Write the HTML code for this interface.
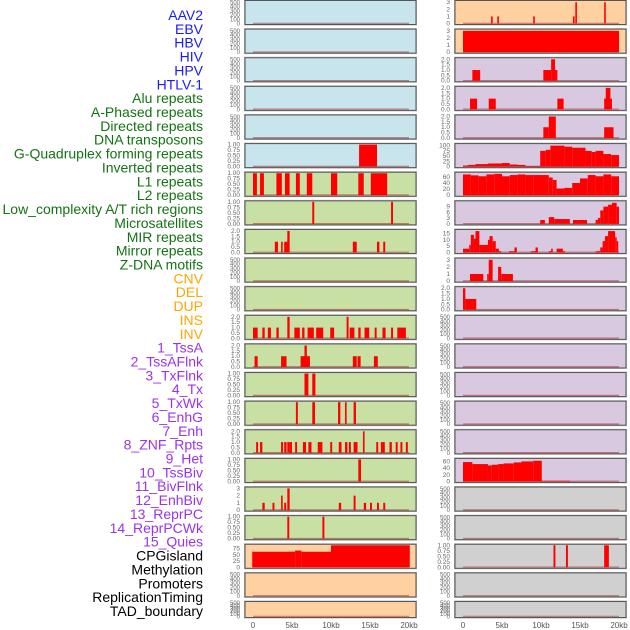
<!DOCTYPE html>
<html><head><meta charset="utf-8">
<style>
html,body{margin:0;padding:0;background:#fff;}
svg{display:block;font-family:"Liberation Sans",sans-serif;}
</style></head>
<body>
<svg id="chart" width="630" height="630" viewBox="0 0 630 630" xmlns="http://www.w3.org/2000/svg"></svg>
<script>
// ---- track labels ----
const labelNames = ["AAV2","EBV","HBV","HIV","HPV","HTLV-1","Alu repeats","A-Phased repeats","Directed repeats","DNA transposons","G-Quadruplex forming repeats","Inverted repeats","L1 repeats","L2 repeats","Low_complexity A/T rich regions","Microsatellites","MIR repeats","Mirror repeats","Z-DNA motifs","CNV","DEL","DUP","INS","INV","1_TssA","2_TssAFlnk","3_TxFlnk","4_Tx","5_TxWk","6_EnhG","7_Enh","8_ZNF_Rpts","9_Het","10_TssBiv","11_BivFlnk","12_EnhBiv","13_ReprPC","14_ReprPCWk","15_Quies","CPGisland","Methylation","Promoters","ReplicationTiming","TAD_boundary"];
const labelColors = ["#1a1aff","#1a1aff","#1a1aff","#1a1aff","#1a1aff","#1a1aff","#137313","#137313","#137313","#137313","#137313","#137313","#137313","#137313","#137313","#137313","#137313","#137313","#137313","#ffa500","#ffa500","#ffa500","#ffa500","#ffa500","#9933ee","#9933ee","#9933ee","#9933ee","#9933ee","#9933ee","#9933ee","#9933ee","#9933ee","#9933ee","#9933ee","#9933ee","#9933ee","#9933ee","#9933ee","#000","#000","#000","#000","#000"];
// ---- x axis ----
const xTickValues = [0,5,10,15,20];
const xTickLabels = ["0","5kb","10kb","15kb","20kb"];
const E = [0,100,200,300,400,500];
// ---- left column tracks ----
const leftBg = ["#c8e4ec","#c8e4ec","#c8e4ec","#c8e4ec","#c8e4ec","#c8e4ec","#c8e0a4","#c8e0a4","#c8e0a4","#c8e0a4","#c8e0a4","#c8e0a4","#c8e0a4","#c8e0a4","#c8e0a4","#c8e0a4","#c8e0a4","#c8e0a4","#c8e0a4","#ffd0a0","#ffd0a0","#ffd0a0"];
const leftMax = [520,520,520,520,520,1,1,1,2.05,520,520,2.05,2.05,1,1,2.05,1,3.05,1,88,520,520];
const leftTicks = [E,E,E,E,E,[0,0.25,0.5,0.75,1],[0,0.25,0.5,0.75,1],[0,0.25,0.5,0.75,1],[0,0.5,1,1.5,2],E,E,[0,0.5,1,1.5,2],[0,0.5,1,1.5,2],[0,0.25,0.5,0.75,1],[0,0.25,0.5,0.75,1],[0,0.5,1,1.5,2],[0,0.25,0.5,0.75,1],[0,1,2,3],[0,0.25,0.5,0.75,1],[0,25,50,75],E,E];
const leftSegs = [[],[],[],[],[],
 [[13.6,15.9,1]],
 [[0,0.5,1],[0.9,1.4,1],[3,3.7,1],[4.1,4.7,1],[5.5,6,1],[6.9,7.6,1],[10,10.8,1],[13.5,14.2,1],[15.1,17.2,1]],
 [[7.6,7.85,1],[17.7,17.95,1]],
 [[2.8,3.2,1],[3.6,3.8,1],[4,4.5,1],[4.4,4.7,2],[12.8,13.3,1],[15.9,16.2,1],[16.7,16.95,1]],
 [],[],
 [[0,0.6,1],[1.2,1.5,1],[1.9,2.3,1],[3,3.3,1],[4.4,4.7,2],[5.3,6,1],[6.3,6.6,1],[7,7.8,1],[8.1,9,1],[9.9,10.4,1],[12,12.25,2],[12.4,13,1],[13.5,13.8,1],[14.3,14.9,1],[15.6,15.85,1],[16.6,17,1],[17.7,17.95,1],[18.5,19.6,1]],
 [[0.2,0.6,1],[3.6,4.3,1],[6.1,7.3,1],[6.6,6.9,2],[12.8,13.3,1],[13.4,13.8,1],[15.5,16,1]],
 [[6.6,7.1,1],[7.6,8,1]],
 [[5.5,5.75,1],[7.6,7.95,1],[10.9,11.2,1],[11.8,12,1],[12.9,13.2,1]],
 [[0.4,0.65,1],[0.9,1.2,1],[3.6,3.85,1],[4,4.3,1],[4.4,4.7,1],[4.7,5,1],[5.4,5.65,1],[6.4,6.8,1],[7.1,7.5,1],[8.3,8.9,1],[9.9,10.15,1],[11,11.35,1],[11.8,12.1,1],[12.3,12.55,1],[12.9,13.4,1],[14.1,14.3,2],[15.8,16.05,1],[16.4,16.9,1],[17.5,17.8,1],[18.3,18.55,1],[18.9,19.15,1],[19.6,19.85,1]],
 [[13.5,13.85,1]],
 [[1.2,1.5,1],[2.5,2.75,1],[3.6,3.8,2],[4,4.25,1],[4.4,4.7,3],[11,11.3,1],[12.9,13.15,2],[14.2,14.5,1],[15,15.25,1],[15.9,16.15,1],[16.7,16.95,1]],
 [[4.4,4.65,1],[8.9,9.15,1]],
 [[-0.1,5.4,62],[5.4,6.2,67],[6.2,10,62],[10,20.1,88]],
 [],[]];
// ---- right column tracks ----
const rightBg = ["#ffd0a0","#ffd0a0","#d8c8e0","#d8c8e0","#d8c8e0","#d8c8e0","#d8c8e0","#d8c8e0","#d8c8e0","#d8c8e0","#d8c8e0","#d8c8e0","#d8c8e0","#d8c8e0","#d8c8e0","#d8c8e0","#d8c8e0","#d0d0d0","#d0d0d0","#d0d0d0","#d0d0d0","#d0d0d0"];
const rightMax = [3.1,3.1,2.05,2.05,2.05,105,72,11.5,17.5,3.1,2.05,520,520,520,520,520,66,520,520,1,520,520];
const rightTicks = [[0,1,2,3],[0,1,2,3],[0,0.5,1,1.5,2],[0,0.5,1,1.5,2],[0,0.5,1,1.5,2],[0,25,50,75,100],[0,20,40,60],[0,3,6,9],[0,5,10,15],[0,1,2,3],[0,0.5,1,1.5,2],E,E,E,E,E,[0,20,40,60],E,E,[0,0.25,0.5,0.75,1],E,E];
const rightSegs = [
 [[3.6,3.8,1],[4.4,4.6,1],[9,9.2,1],[14.1,14.3,1],[14.4,14.6,3],[18.1,18.3,3]],
 [[0,20,3]],
 [[1.2,2.2,1],[10.3,11.3,1],[11.3,11.8,2],[11.8,12.1,1]],
 [[0.9,1.8,1],[3.3,4.2,1],[12.1,12.9,1],[18.1,19.1,1],[18.3,18.9,2]],
 [[10.3,11,1],[11,11.9,2],[18.1,19.3,1]],
 [[0,0.6,5],[0.6,1.6,8],[1.6,3.2,12],[3.2,5,15],[5,6,17],[6,7,10],[7,8,8],[8,9.9,3],[9.9,10.6,75],[10.6,11.2,80],[11.2,13,100],[13,14,95],[14,15.7,90],[15.7,16.5,75],[16.5,17,70],[17,18,75],[18,19,60],[19,20,55]],
 [[0,1,68],[1,2,65],[2,3,62],[3,4,68],[4,5,70],[5,6,62],[6,7,66],[7,8,68],[8,9,66],[9,10,66],[10,11,66],[11,11.5,58],[11.5,12,50],[12,13,22],[13,14,24],[14,15,40],[15,16,55],[16,17,66],[17,18,62],[18,19,68],[19,20,62]],
 [[9.9,10.5,2],[11,11.7,3.5],[11.7,13.7,2.5],[14.1,15.9,2],[17,17.3,2],[17.3,17.6,3],[17.6,18,7],[18,18.6,9],[18.6,19.1,10],[19.1,19.7,11],[19.7,20,9]],
 [[0,0.8,3],[0.8,1,6],[1,1.4,14],[1.4,1.6,11],[1.6,2.1,17],[2.1,3.2,6],[3.2,3.4,10],[3.4,3.8,13],[3.8,4.2,9],[4.2,4.6,3],[4.6,4.9,1],[5.9,6.6,1],[6.6,6.9,4],[8.7,9.3,1],[9.3,9.6,4],[11,11.3,1],[11.3,11.5,3],[12,12.8,3],[12.8,13.1,1],[17,17.6,1],[17.6,17.9,4],[17.9,18.2,9],[18.2,18.6,13],[18.6,19.5,17],[19.5,19.7,12],[19.7,19.9,9]],
 [[0.9,2.6,1],[3.1,3.3,1],[3.3,3.8,3],[4.5,4.9,2],[4.9,6.4,1]],
 [[0,0.3,2],[0.3,1.7,1]],
 [],[],[],[],[],
 [[0,1.2,58],[1.2,3.2,52],[3.2,3.7,48],[3.7,4.5,50],[4.5,5.2,52],[5.2,6.5,54],[6.5,7.5,57],[7.5,9,60],[9,10.1,62],[10.1,13.7,2]],
 [],[],
 [[11.6,11.85,1],[13.2,13.45,1],[18.1,18.7,1]],
 [],[]];
// ---- layout ----
const NS = "http://www.w3.org/2000/svg";
const svg = document.getElementById("chart");
function mk(tag, attrs, parent){ const e=document.createElementNS(NS,tag); for(const k in attrs) e.setAttribute(k,attrs[k]); (parent||svg).appendChild(e); return e; }
const ROW = 28.62;
function rowTop(i){ return i*ROW + 0.5; }
function rowH(i){ return i===21 ? 16 : 24; }
const cols = [
 {px:245, pw:171, x0:253, bg:leftBg, max:leftMax, ticks:leftTicks, segs:leftSegs, side:'left'},
 {px:455, pw:171, x0:463, bg:rightBg, max:rightMax, ticks:rightTicks, segs:rightSegs, side:'right'}];
const KB = 7.8;
function fmt(v, ticks){ const dec = ticks.some(t=>t%1!==0); if(!dec) return String(v); return ticks.some(t=>(t*4)%2===1 && t%1!==0.5)? v.toFixed(2): v.toFixed(1); }

// labels
labelNames.forEach((n,i)=>{
  const t = mk("text",{x:203,y:20+i*13.86,"text-anchor":"end","font-size":"14",fill:labelColors[i]});
  
  
  t.textContent = n;
});

cols.forEach((c,ci)=>{
  for(let r=0;r<22;r++){
    const top=rowTop(r), h=rowH(r), bottom=top+h;
    const g = mk("g",{});
    
    
    mk("rect",{x:c.px-0.5,y:top-0.5,width:c.pw+1,height:h+1,fill:"none",stroke:"#bbb","stroke-width":1},g);
    mk("rect",{x:c.px,y:top,width:c.pw,height:h,fill:c.bg[r],stroke:"#555","stroke-width":1},g);
    const ymax=c.max[r];
    const yS = v => (bottom-1) - v/ymax*(h-2);
    const xS = v => c.x0 + v*KB;
    const bl = mk("line",{x1:xS(0),x2:xS(20),y1:bottom-1.2,y2:bottom-1.2,stroke:"rgba(170,40,40,0.55)","stroke-width":1.2},g);
    
    
    c.segs[r].forEach(s=>{
      const x1=xS(Math.max(s[0],-0.2)), x2=xS(Math.min(s[1],20.2));
      const b = mk("rect",{x:x1,y:yS(s[2]),width:Math.max(x2-x1,1.6),height:(bottom-1)-yS(s[2]),fill:"#ff0000"},g);
      
      
    });
    const tk=c.ticks[r];
    tk.forEach(v=>{
      const t = mk("text",{x:c.px-5,y:yS(v)+2,"text-anchor":"end","font-size":(tk.length>5?"6":"6.5"),fill:"#666"},g);
      
      
      t.textContent = fmt(v,tk);
    });
  }
  xTickValues.forEach((v,i)=>{
    const t = mk("text",{x:c.x0+v*KB,y:628,"text-anchor":"middle","font-size":"8",fill:"#555"});
    
    
    t.textContent = xTickLabels[i];
  });
});
</script>
</body></html>
